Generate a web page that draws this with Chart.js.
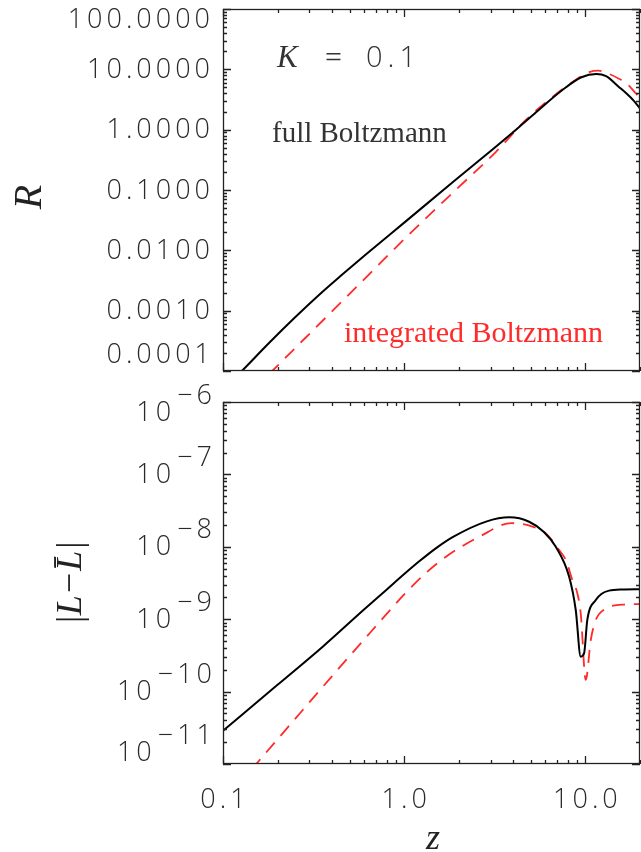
<!DOCTYPE html>
<html>
<head>
<meta charset="utf-8">
<script src="https://cdn.jsdelivr.net/npm/chart.js@4/dist/chart.umd.min.js"></script>
<style>
  html, body { margin: 0; padding: 0; background: #fff; }
  #wrap { position: relative; width: 641px; height: 852px; }
  canvas { position: absolute; left: 0; }
  #topCanvas { top: 0; }
  #botCanvas { top: 380px; }
</style>
</head>
<body>
<div id="wrap">
  <canvas id="topCanvas" width="641" height="380"></canvas>
  <canvas id="botCanvas" width="641" height="472"></canvas>
</div>
<script>
// top panel: R vs z
const zTopFull = [0.1, 0.127, 0.18, 0.25, 0.342, 0.45, 0.6, 1.0, 1.85, 3.07, 4.31, 5.5, 7.46, 9.5, 11.5, 13, 15.3, 16.8, 18.5, 20];
const rTopFull = [4.9e-5, 1e-4, 2.94e-4, 7.76e-4, 1.87e-3, 3.85e-3, 8.04e-3, 0.0288, 0.134, 0.47, 1.11, 2.1, 4.55, 7.4, 8.4, 7.7, 5.1, 4.0, 3.0, 2.26];
const zTopInt = [0.1, 0.187, 0.326, 0.565, 1.0, 1.85, 3.21, 4.69, 6.58, 8.9, 10.5, 11.8, 13.5, 15.3, 16.8, 18.9, 20];
const rTopInt = [1.5e-5, 1e-4, 5.3e-4, 2.75e-3, 0.0153, 0.09, 0.43, 1.45, 3.5, 6.8, 9.0, 9.5, 8.4, 7.0, 5.9, 4.05, 3.3];

// bottom panel: |L - Lbar| vs z
const zBotFull = [0.1, 0.2, 0.355, 0.6, 0.796, 1.0, 1.21, 1.5, 1.85, 2.83, 3.8, 4.89, 5.9, 6.86, 8.13, 8.84, 9.42, 9.83, 10.24, 11.4, 12.3, 13.5, 16, 20];
const dBotFull = [2.88e-11, 1.24e-10, 4.17e-10, 1.36e-9, 2.53e-9, 4.2e-9, 6.3e-9, 9.6e-9, 1.36e-8, 2.23e-8, 2.55e-8, 2.22e-8, 1.6e-8, 1.0e-8, 3.86e-9, 1.34e-9, 3.03e-10, 3.38e-10, 9.76e-10, 1.84e-9, 2.25e-9, 2.48e-9, 2.58e-9, 2.6e-9];
const zBotInt = [0.1, 0.1525, 0.25, 0.4, 0.65, 1.0, 1.3, 1.7, 2.6, 3.9, 5.1, 6.05, 7.16, 7.79, 8.47, 9.02, 9.42, 10.04, 10.7, 11.4, 12.9, 14.5, 17, 20];
const dBotInt = [2.95e-12, 1e-11, 4.2e-11, 1.64e-10, 6.55e-10, 2.2e-9, 4.23e-9, 7.3e-9, 1.38e-8, 2.12e-8, 1.9e-8, 1.53e-8, 9.0e-9, 6.6e-9, 3.47e-9, 2.28e-9, 1.2e-9, 1.45e-10, 5.16e-10, 9.76e-10, 1.4e-9, 1.55e-9, 1.6e-9, 1.62e-9];

// axis ticks
const xTickValues = [0.1, 1, 10];
const xTickLabels = ["0.1", "1.0", "10.0"];
const topTickValues = [1e-4, 1e-3, 1e-2, 1e-1, 1, 10, 100];
const topTickLabels = ["0.0001", "0.0010", "0.0100", "0.1000", "1.0000", "10.0000", "100.0000"];
const botTickValues = [1e-11, 1e-10, 1e-9, 1e-8, 1e-7, 1e-6];
const botTickExps = ["\u221211", "\u221210", "\u22129", "\u22128", "\u22127", "\u22126"];

const INK = "#222";
const RED = "#ff2a2a";
const NUM_FONT = '300 27px "Open Sans", "DejaVu Sans", sans-serif';
const NUM_GAP = 4;

const pts = (xs, ys) => xs.map((x, i) => ({ x, y: ys[i] }));

function logTicks(min, max) {
  const out = [];
  for (let e = Math.floor(Math.log10(min)); e <= Math.ceil(Math.log10(max)); e++) {
    for (let k = 1; k < 10; k++) {
      const v = k * Math.pow(10, e);
      if (v < min * 0.999 || v > max * 1.001) continue;
      out.push([v, k === 1]);
    }
  }
  return out;
}

function numText(ctx, s, x, y, align) {
  // letterSpacing adds a trailing gap, so nudge the anchor
  ctx.font = NUM_FONT;
  ctx.letterSpacing = NUM_GAP + "px";
  ctx.textAlign = align;
  ctx.textBaseline = "middle";
  const shift = align === "right" ? NUM_GAP : align === "center" ? NUM_GAP / 2 : 0;
  ctx.fillText(s, x + shift, y);
  return ctx.measureText(s).width - NUM_GAP;
}

const frame = {
  id: "frame",
  afterDraw(chart, args, o) {
    const { ctx, chartArea: a } = chart;
    const xs = chart.scales.x, ys = chart.scales.y;
    ctx.save();
    ctx.strokeStyle = INK;
    ctx.lineWidth = 1.3;
    ctx.strokeRect(a.left + 0.5, a.top + 0.5, a.right - a.left - 1, a.bottom - a.top - 1);

    ctx.beginPath();
    for (const [v, major] of logTicks(xs.min, xs.max)) {
      const px = Math.round(xs.getPixelForValue(v)) + 0.5;
      const len = major ? 8 : 4;
      ctx.moveTo(px, a.bottom); ctx.lineTo(px, a.bottom - len);
      ctx.moveTo(px, a.top); ctx.lineTo(px, a.top + len);
    }
    for (const [v, major] of logTicks(ys.min, ys.max)) {
      const py = Math.round(ys.getPixelForValue(v)) + 0.5;
      const len = major ? 8 : 4;
      ctx.moveTo(a.left, py); ctx.lineTo(a.left + len, py);
      ctx.moveTo(a.right, py); ctx.lineTo(a.right - len, py);
    }
    ctx.stroke();

    ctx.fillStyle = "#2a2a2a";
    if (o.labels) {
      o.values.forEach((v, i) => {
        let y = ys.getPixelForValue(v) + 1;
        y = Math.min(Math.max(y, a.top + 11), a.bottom - 16);
        numText(ctx, o.labels[i], 210, y, "right");
      });
    }
    if (o.exps) {
      o.values.forEach((v, i) => {
        let y = ys.getPixelForValue(v) + 1;
        y = Math.min(Math.max(y, a.top + 11), a.bottom - 11);
        const w = numText(ctx, o.exps[i], 212, y - 17, "right");
        numText(ctx, "10", 212 - w - 6, y, "right");
      });
    }
    if (o.xLabels) {
      xTickValues.forEach((v, i) => {
        numText(ctx, xTickLabels[i], xs.getPixelForValue(v), a.bottom + 36, "center");
      });
    }

    ctx.letterSpacing = "0px";
    ctx.textAlign = "center";
    ctx.textBaseline = "middle";
    ctx.fillStyle = INK;
    if (o.title) {
      ctx.save();
      ctx.translate(o.title.x, o.title.y);
      ctx.rotate(-Math.PI / 2);
      ctx.font = o.title.font;
      ctx.fillText(o.title.text, 0, 0);
      ctx.restore();
    }
    if (o.xTitle) {
      ctx.font = 'italic 36px "Liberation Serif", serif';
      ctx.fillText("z", 433, a.bottom + 76);
    }
    if (o.notes) {
      ctx.textBaseline = "alphabetic";
      ctx.textAlign = "left";
      ctx.fillStyle = "#333";
      ctx.font = 'italic 31px "Liberation Serif", serif';
      ctx.fillText("K", 277, 67);
      ctx.font = '30px "Liberation Serif", serif';
      ctx.fillText("=", 325, 67);
      ctx.font = NUM_FONT.replace("27px", "29px");
      ctx.letterSpacing = "5px";
      ctx.fillText("0.1", 366, 67);
      ctx.letterSpacing = "0px";
      ctx.font = '29px "Liberation Serif", serif';
      ctx.fillText("full Boltzmann", 272, 142);
      ctx.fillStyle = RED;
      ctx.font = '30px "Liberation Serif", serif';
      ctx.fillText("integrated Boltzmann", 344, 342);
    }
    ctx.restore();
  }
};

function makeChart(id, pad, yMin, yMax, full, integ, frameOpts) {
  return new Chart(document.getElementById(id), {
    type: "line",
    data: {
      datasets: [
        { label: "full Boltzmann", data: full, borderColor: "#000", borderWidth: 2, pointRadius: 0, cubicInterpolationMode: "monotone" },
        { label: "integrated Boltzmann", data: integ, borderColor: RED, borderWidth: 1.8, borderDash: [13, 9], pointRadius: 0, cubicInterpolationMode: "monotone" },
      ],
    },
    options: {
      responsive: false,
      animation: false,
      devicePixelRatio: 1,
      layout: { padding: pad },
      plugins: { legend: { display: false }, tooltip: { enabled: false }, frame: frameOpts },
      scales: {
        x: { type: "logarithmic", min: 0.1, max: 20, display: false },
        y: { type: "logarithmic", min: yMin, max: yMax, display: false },
      },
    },
    plugins: [frame],
  });
}

makeChart("topCanvas", { left: 223, right: 1, top: 9, bottom: 9 }, 1e-4, 100,
  pts(zTopFull, rTopFull), pts(zTopInt, rTopInt), {
    values: topTickValues, labels: topTickLabels, notes: true,
    title: { text: "R", x: 30, y: 197, font: 'italic 40px "Liberation Serif", serif' },
  });

makeChart("botCanvas", { left: 223, right: 1, top: 22, bottom: 88 }, 1e-11, 1e-6,
  pts(zBotFull, dBotFull), pts(zBotInt, dBotInt), {
    values: botTickValues, exps: botTickExps, xLabels: true, xTitle: true,
    title: { text: "|L\u2212L\u0304|", x: 72, y: 203, font: 'italic 36px "Liberation Serif", serif' },
  });
</script>
</body>
</html>
